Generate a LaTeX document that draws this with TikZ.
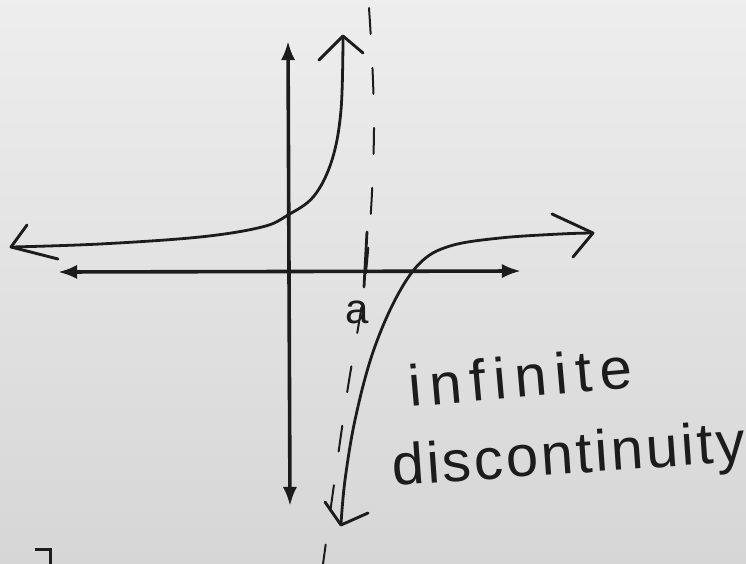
\documentclass[tikz,border=0pt]{standalone}
\usepackage{fontspec}
\setmainfont{Liberation Sans}
\usetikzlibrary{arrows.meta}
\definecolor{paper}{RGB}{226,226,226}
\definecolor{paperdark}{RGB}{214,214,214}
\definecolor{ink}{RGB}{28,28,28}
\tikzset{
  axis/.style={draw=ink, line width=3.6pt, Latex-Latex, >={Latex[length=15pt,width=15pt]}},
  curve/.style={draw=ink, line width=2.8pt, line cap=round, line join=round},
  barb/.style={draw=ink, line width=2.9pt, line cap=round, line join=round},
  asym/.style={draw=ink, line width=2pt, dash pattern=on 26pt off 34pt, line cap=round},
  hand/.style={text=ink, inner sep=0pt, font=\fontsize{58}{58}\selectfont}
}
\begin{document}
\begin{tikzpicture}[x=1pt,y=-1pt]
\useasboundingbox (0,0) rectangle (746,564);
\shade[top color=paper!60!white, bottom color=paperdark] (0,0) rectangle (746,564);

% asymptote (dashed)
\draw[asym] plot[smooth, tension=0.6] coordinates {(369,8) (374,130) (366,272) (346,400) (323,564)};
% tick at a
\draw[curve] (367,232) -- (364,287);
\node[hand, font=\fontsize{42}{42}\selectfont] (alabel) at (357,312) {a};

% axes
\coordinate (xl) at (58,272);
\coordinate (xr) at (521,271);
\coordinate (yt) at (288,41);
\coordinate (yb) at (290,506);
\draw[axis] (xl) -- (xr);
\draw[axis] (yb) -- (yt);

% left branch
\draw[curve] plot[smooth, tension=0.6] coordinates {(12,247) (100,244) (200,237) (262,227) (288,215) (314,196) (332,160) (341,110) (343,38)};
\draw[barb] (27,225) -- (11,247) -- (58,259);
\draw[barb] (319,60) -- (343,36) -- (363,53);

% right branch
\draw[curve] plot[smooth, tension=0.6] coordinates {(341,524) (345,480) (355,420) (372,355) (395,300) (420,263) (450,246) (500,238) (560,234) (592,233)};
\draw[barb] (325,502) -- (341,525) -- (368,513);
\draw[barb] (552,214) -- (593,233) -- (573,257);

% labels
\node[hand, anchor=base west, rotate=5, text depth=0pt] (t1) at (410,407) {\addfontfeature{LetterSpace=14}infinite};
\node[hand, anchor=base west, rotate=4, text height=42pt] (t2) at (393,486) {\addfontfeature{LetterSpace=5}discontinuity};

% corner mark
\draw[ink, line width=3pt] (35,549) -- (50,549) -- (50,566);
\end{tikzpicture}
\end{document}
